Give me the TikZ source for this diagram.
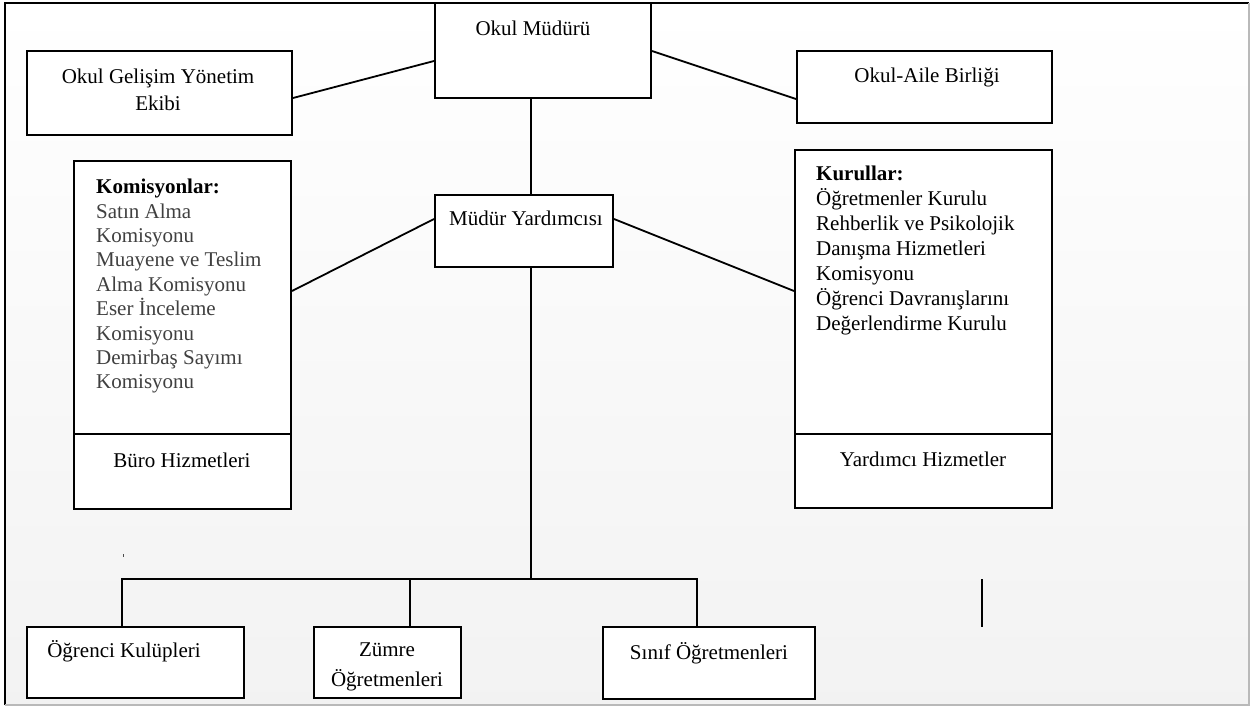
\documentclass[tikz,border=0pt]{standalone}
\usepackage{fontspec}
\setmainfont{Liberation Serif}
\usetikzlibrary{calc}

\tikzset{
  orgbox/.style={draw, fill=white, line width=2pt, inner sep=0pt},
  orgtext/.style={inner sep=0pt, font=\fontsize{21}{24.4}\selectfont},
  orgline/.style={line width=1.8pt},
}

\begin{document}
\begin{tikzpicture}[x=1pt,y=-1pt]
  \useasboundingbox (0,0) rectangle (1252,707);
  \shade[top color=white, bottom color=gray!10] (5,3) rectangle (1249,705);
  \draw[line width=2.5pt] (5,705) -- (5,3) -- (1249,3);
  \draw[gray!55, line width=1.5pt] (1249,3) -- (1249,705) -- (5,705);

  \node[orgbox, minimum width=216, minimum height=95] (mudur) at (543,50.5) {};
  \node[orgbox, minimum width=265, minimum height=84] (ekip) at (159.5,93) {};
  \node[orgbox, minimum width=255, minimum height=72] (aile) at (924.5,87) {};
  \node[orgbox, minimum width=178, minimum height=72] (yard) at (524,231) {};
  \node[orgbox, minimum width=217, minimum height=348] (komisyon) at (182.5,335) {};
  \node[orgbox, minimum width=257, minimum height=358] (kurul) at (923.5,329) {};
  \node[orgbox, minimum width=217, minimum height=71] (kulup) at (135.5,662.5) {};
  \node[orgbox, minimum width=147, minimum height=71] (zumre) at (387.5,662.5) {};
  \node[orgbox, minimum width=212, minimum height=72] (sinif) at (709,663) {};

  \draw[line width=2pt] ($(komisyon.north west)+(0,274)$) -- ++(217,0);
  \draw[line width=2pt] ($(kurul.north west)+(0,285)$) -- ++(257,0);

  \node[orgtext, anchor=base] (mudurt) at (533,35) {Okul Müdürü};
  \node[orgtext, anchor=north, align=center, font=\fontsize{21}{27}\selectfont] (ekipt) at (158,69) {Okul Gelişim Yönetim\\Ekibi};
  \node[orgtext, anchor=base] (ailet) at (927,82) {Okul-Aile Birliği};
  \node[orgtext, anchor=base] (yardt) at (526,225) {Müdür Yardımcısı};
  \node[orgtext, anchor=north west, align=left, text=black!75] (komt) at (96,179)
    {\textbf{\color{black}Komisyonlar:}\\Satın Alma\\Komisyonu\\Muayene ve Teslim\\Alma Komisyonu\\Eser İnceleme\\Komisyonu\\Demirbaş Sayımı\\Komisyonu};
  \node[orgtext, anchor=base] (burot) at (182,467) {Büro Hizmetleri};
  \node[orgtext, anchor=north west, align=left, font=\fontsize{21}{25}\selectfont] (kurt) at (816,166)
    {\textbf{Kurullar:}\\Öğretmenler Kurulu\\Rehberlik ve Psikolojik\\Danışma Hizmetleri\\Komisyonu\\Öğrenci Davranışlarını\\Değerlendirme Kurulu};
  \node[orgtext, anchor=base] (yhizt) at (923,466) {Yardımcı Hizmetler};
  \node[orgtext, anchor=base] (kulupt) at (124,657) {Öğrenci Kulüpleri};
  \node[orgtext, anchor=north, align=center, font=\fontsize{21}{30}\selectfont] (zumret) at (387,643) {Zümre\\Öğretmenleri};
  \node[orgtext, anchor=base] (sinift) at (709,659) {Sınıf Öğretmenleri};

  \coordinate (spine) at ($(mudur.south)+(-12,0)$);
  \coordinate (bus) at (531,579);
  \draw[orgline] ($(ekip.east)+(0,5)$) -- ($(mudur.west)+(0,10.5)$);
  \draw[orgline] ($(mudur.east)+(0,0.5)$) -- ($(aile.west)+(0,12)$);
  \draw[orgline] (spine) -- (spine |- yard.north);
  \draw[orgline] ($(yard.west)+(0,-12)$) -- ($(komisyon.east)+(0,-44)$);
  \draw[orgline] ($(yard.east)+(0,-12)$) -- ($(kurul.west)+(0,-38)$);
  \draw[orgline] (spine |- yard.south) -- (bus);
  \draw[orgline] ($(kulup.north)+(-13.5,0)$) |- (bus);
  \draw[orgline] ($(zumre.north)+(22.5,0)$) -- ++(0,-48);
  \draw[orgline] ($(sinif.north)+(-12,0)$) |- (bus);
  \draw[orgline] (982,579) -- (982,627);
  \fill[black!70] (122.5,553.5) rectangle (124,556.5);
\end{tikzpicture}
\end{document}
